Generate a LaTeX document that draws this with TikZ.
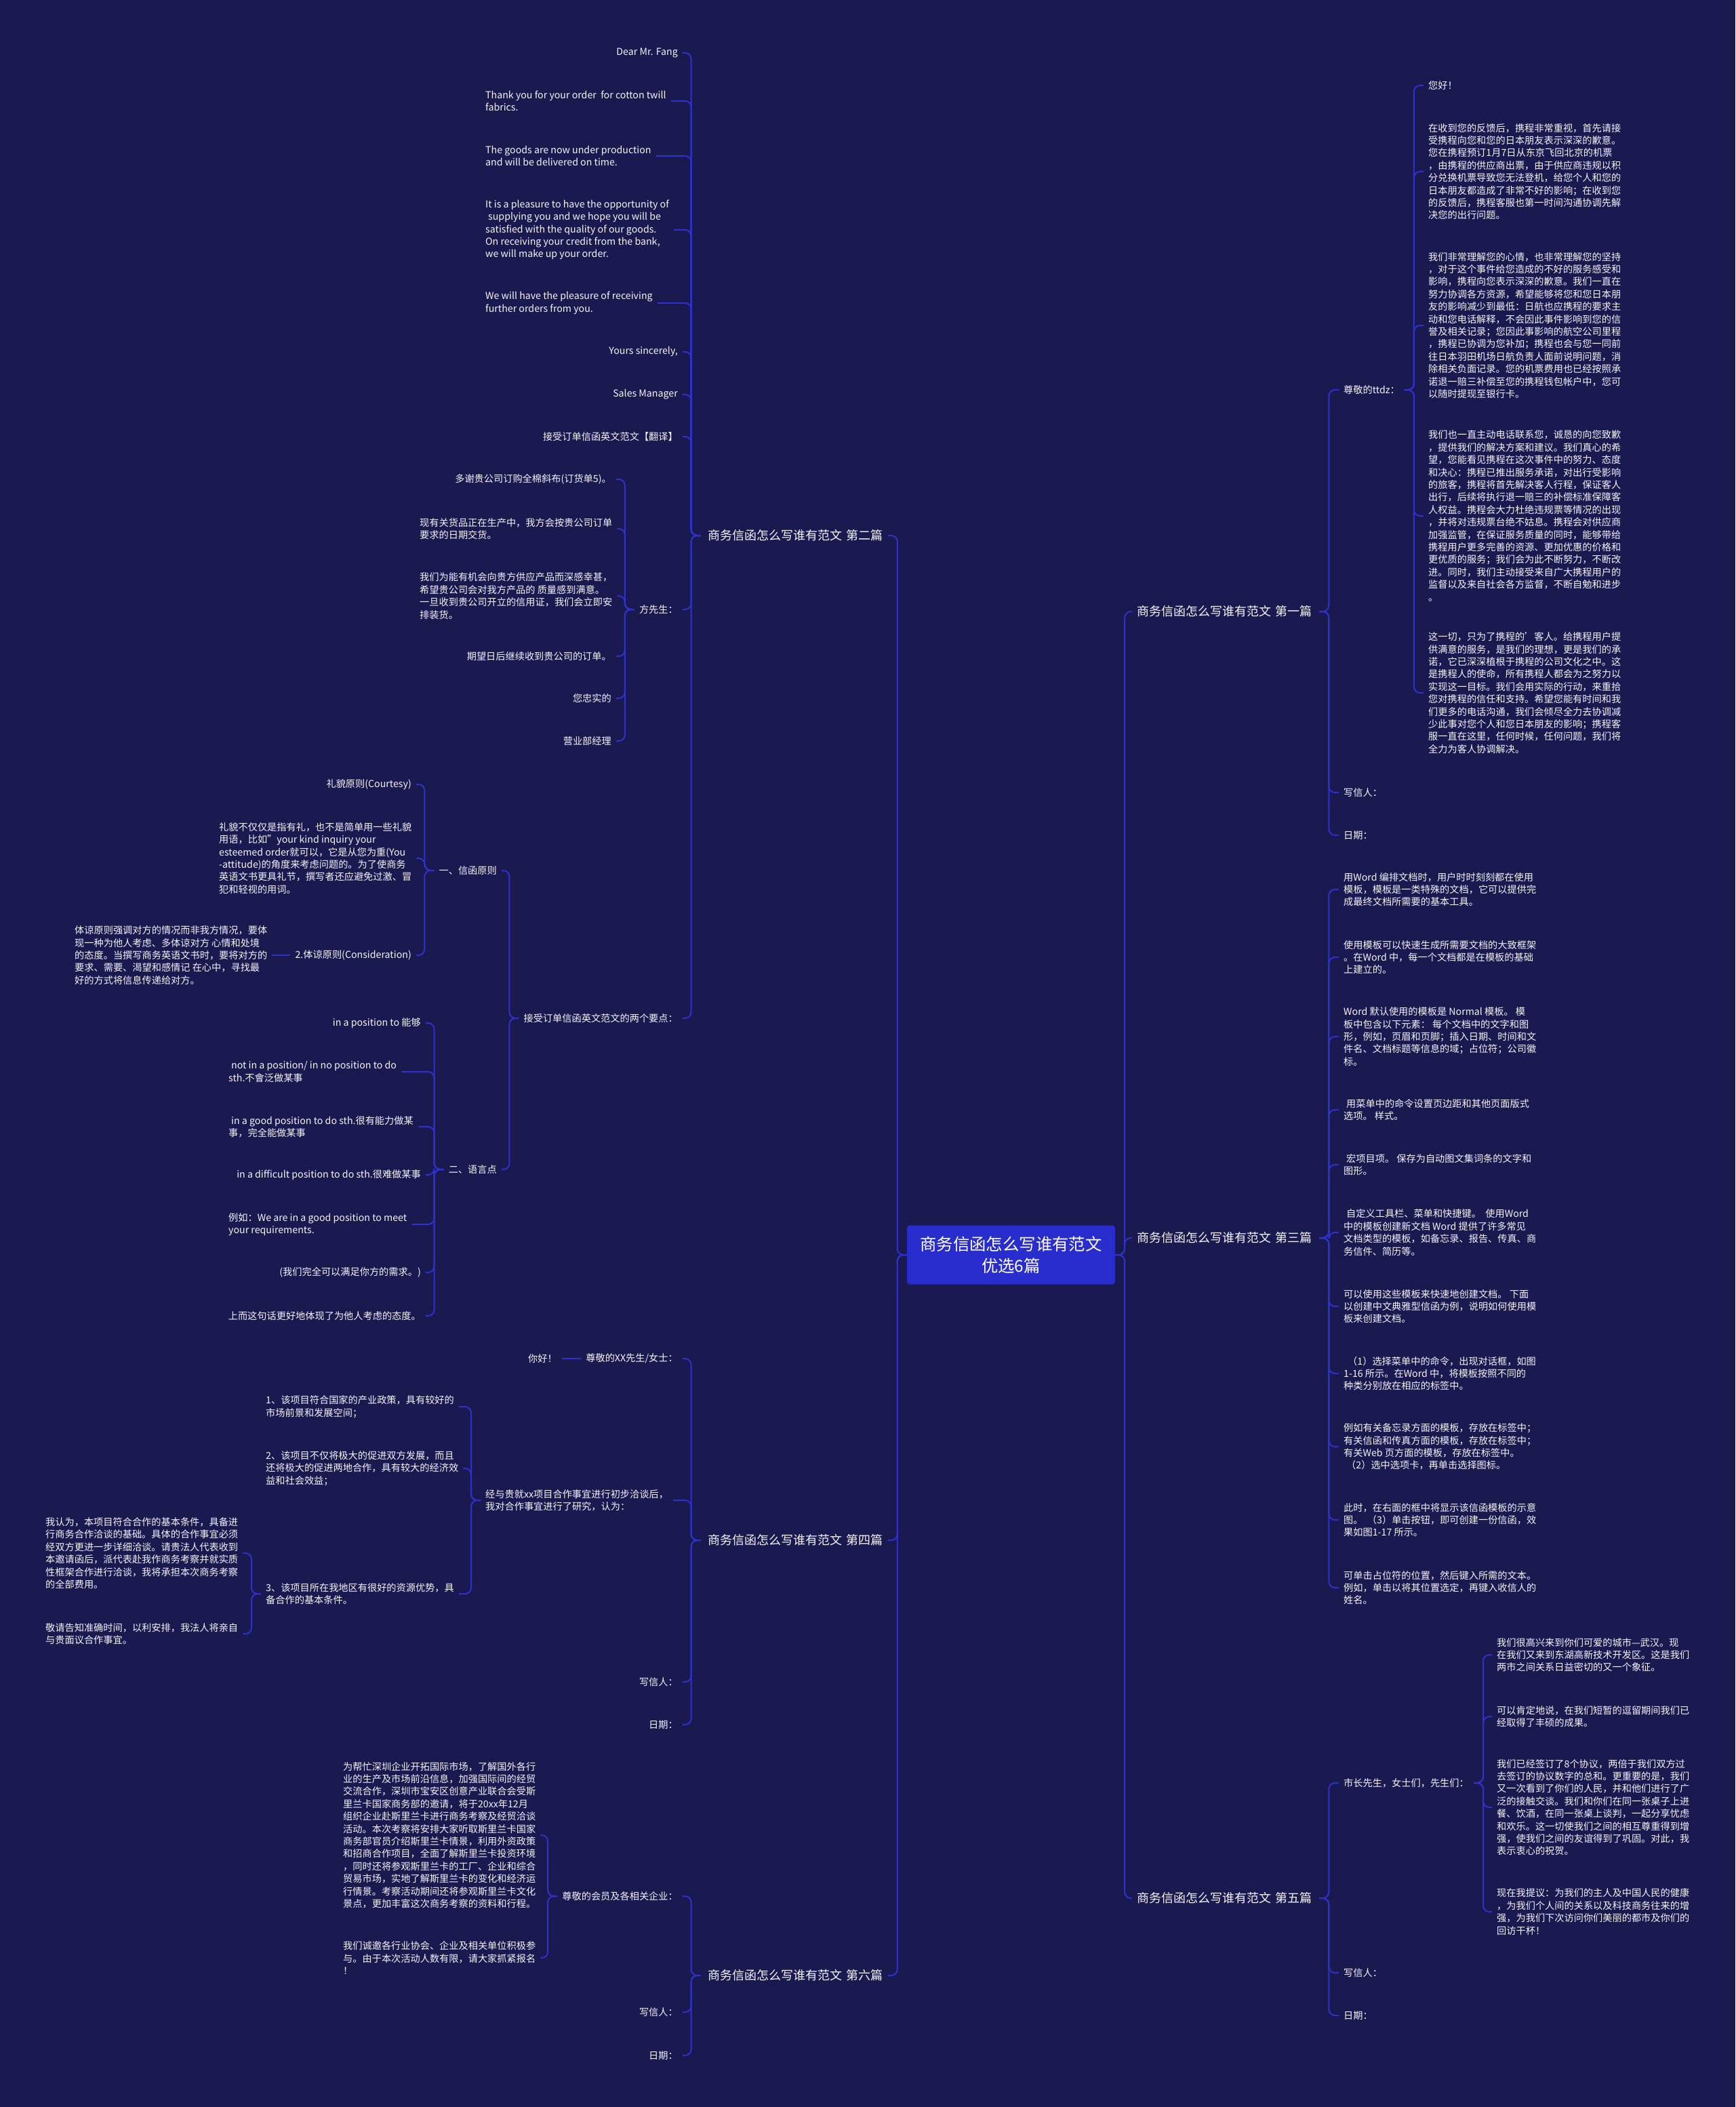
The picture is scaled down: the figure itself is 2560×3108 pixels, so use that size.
\documentclass[tikz,border=0pt]{standalone}
\usepackage{fontspec}
\setmainfont{Noto Sans CJK SC}
\definecolor{bg}{RGB}{26,25,80}
\definecolor{ln}{RGB}{45,50,205}
\definecolor{rootc}{RGB}{42,45,205}
\definecolor{txt}{RGB}{245,245,250}
\newcommand\fsml{\fontsize{14.2pt}{18.4pt}\selectfont}
\newcommand\fmain{\fontsize{18pt}{22pt}\selectfont}
\newcommand\froot{\fontsize{24.4pt}{32pt}\selectfont}
\newcommand\lcon[2]{\draw[conn] (#2.west) -- ++(-14,0) |- (#1.east);}
\newcommand\rcon[2]{\draw[conn] (#2.east) -- ++(14,0) |- (#1.west);}
\begin{document}
\begin{tikzpicture}[x=1pt,y=-1pt,
  every node/.style={text=txt, font=\fsml, inner xsep=7pt, inner ysep=2pt},
  lf/.style={anchor=east},
  lm/.style={anchor=west, align=left},
  rt/.style={anchor=west},
  rm/.style={anchor=west, align=left},
  mainL/.style={anchor=east, font=\fmain, text width=262pt, align=right},
  mainR/.style={anchor=west, font=\fmain, text width=262pt, align=left},
  rootbox/.style={fill=rootc, rounded corners=4pt, minimum width=307pt, minimum height=87pt, font=\froot, align=center, text=white},
  conn/.style={draw=ln, line width=2pt, rounded corners=9pt}]
\fill[bg] (0,0) rectangle (2560,3108);
\useasboundingbox (0,0) rectangle (2560,3108);

% root
\node[rootbox] (root) at (1491.5,1851) {商务信函怎么写谁有范文\\优选6篇};

% main branches
\node[mainL] (b2) at (1310,790) {商务信函怎么写谁有范文 第二篇};
\node[mainL] (b4) at (1310,2272) {商务信函怎么写谁有范文 第四篇};
\node[mainL] (b6) at (1310,2914) {商务信函怎么写谁有范文 第六篇};
\node[mainR] (b1) at (1670,902) {商务信函怎么写谁有范文 第一篇};
\node[mainR] (b3) at (1670,1826) {商务信函怎么写谁有范文 第三篇};
\node[mainR] (b5) at (1670,2800) {商务信函怎么写谁有范文 第五篇};

% ---- 第二篇
\node[lf] (a1) at (1007,78) {Dear Mr. Fang};
\node[lm] (a2) at (709,149) {Thank you for your order \ for cotton twill\\fabrics.};
\node[lm] (a3) at (709,230) {The goods are now under production\\and will be delivered on time.};
\node[lm] (a4) at (709,339) {It is a pleasure to have the opportunity of\\\hspace*{4pt}supplying you and we hope you will be\\satisfied with the quality of our goods.\\On receiving your credit from the bank,\\we will make up your order.};
\node[lm] (a5) at (709,447) {We will have the pleasure of receiving\\further orders from you.};
\node[lf] (a6) at (1007,519) {Yours sincerely,};
\node[lf] (a7) at (1007,582) {Sales Manager};
\node[lf] (a8) at (1007,644) {接受订单信函英文范文【翻译】};
\node[lf] (a9) at (1007,899) {方先生：};
\node[lf] (a10) at (1007,1502) {接受订单信函英文范文的两个要点：};

\node[lf] (f1) at (909,707) {多谢贵公司订购全棉斜布(订货单5)。};
\node[lm] (f2) at (612,780) {现有关货品正在生产中，我方会按贵公司订单\\要求的日期交货。};
\node[lm] (f3) at (612,879) {我们为能有机会向贵方供应产品而深感幸甚，\\希望贵公司会对我方产品的 质量感到满意。\\一旦收到贵公司开立的信用证，我们会立即安\\排装货。};
\node[lf] (f4) at (909,968) {期望日后继续收到贵公司的订单。};
\node[lf] (f5) at (909,1030) {您忠实的};
\node[lf] (f6) at (909,1093) {营业部经理};

\node[lf] (p1) at (740,1284) {一、信函原则};
\node[lf] (p2) at (740,1725) {二、语言点};

\node[lf] (c1) at (614,1157) {礼貌原则(Courtesy)};
\node[lm] (c2) at (316,1266) {礼貌不仅仅是指有礼，也不是简单用一些礼貌\\用语，比如\char34 your kind inquiry your\\esteemed order就可以，它是从您为重(You\\-attitude)的角度来考虑问题的。为了使商务\\英语文书更具礼节，撰写者还应避免过激、冒\\犯和轻视的用词。};
\node[lf] (c3) at (614,1409) {2.体谅原则(Consideration)};
\node[lm] (c4) at (103,1409) {体谅原则强调对方的情况而非我方情况，要体\\现一种为他人考虑、多体谅对方 心情和处境\\的态度。当撰写商务英语文书时，要将对方的\\要求、需要、渴望和感情记 在心中，寻找最\\好的方式将信息传递给对方。};

\node[lf] (q1) at (628,1509) {in a position to 能够};
\node[lm] (q2) at (330,1581) {\hspace*{4pt}not in a position/ in no position to do\\sth.不會泛做某事};
\node[lm] (q3) at (330,1662) {\hspace*{4pt}in a good position to do sth.很有能力做某\\事，完全能做某事};
\node[lf] (q4) at (628,1733) {in a difficult position to do sth.很难做某事};
\node[lm] (q5) at (330,1806) {例如：We are in a good position to meet\\your requirements.};
\node[lf] (q6) at (628,1877) {(我们完全可以满足你方的需求。)};
\node[lf] (q7) at (628,1941) {上而这句话更好地体现了为他人考虑的态度。};

% ---- 第四篇
\node[lf] (d1) at (1007,2004) {尊敬的XX先生/女士：};
\node[lf] (d1a) at (829,2004) {你好！};
\node[lm] (d2) at (709,2213) {经与贵就xx项目合作事宜进行初步洽谈后，\\我对合作事宜进行了研究，认为：};
\node[lm] (d2a) at (385,2075) {1、该项目符合国家的产业政策，具有较好的\\市场前景和发展空间；};
\node[lm] (d2b) at (385,2166) {2、该项目不仅将极大的促进双方发展，而且\\还将极大的促进两地合作，具有较大的经济效\\益和社会效益；};
\node[lm] (d2c) at (385,2351) {3、该项目所在我地区有很好的资源优势，具\\备合作的基本条件。};
\node[lm] (d2c1) at (60,2291) {我认为，本项目符合合作的基本条件，具备进\\行商务合作洽谈的基础。具体的合作事宜必须\\经双方更进一步详细洽谈。请贵法人代表收到\\本邀请函后，派代表赴我作商务考察并就实质\\性框架合作进行洽谈，我将承担本次商务考察\\的全部费用。};
\node[lm] (d2c2) at (60,2410) {敬请告知准确时间，以利安排，我法人将亲自\\与贵面议合作事宜。};
\node[lf] (d3) at (1007,2481) {写信人：};
\node[lf] (d4) at (1007,2544) {日期：};

% ---- 第六篇
\node[lf] (s1) at (1007,2797) {尊敬的会员及各相关企业：};
\node[lm] (s1a) at (499,2707) {为帮忙深圳企业开拓国际市场，了解国外各行\\业的生产及市场前沿信息，加强国际间的经贸\\交流合作，深圳市宝安区创意产业联合会受斯\\里兰卡国家商务部的邀请，将于20xx年12月\\组织企业赴斯里兰卡进行商务考察及经贸洽谈\\活动。本次考察将安排大家听取斯里兰卡国家\\商务部官员介绍斯里兰卡情景，利用外资政策\\和招商合作项目，全面了解斯里兰卡投资环境\\，同时还将参观斯里兰卡的工厂、企业和综合\\贸易市场，实地了解斯里兰卡的变化和经济运\\行情景。考察活动期间还将参观斯里兰卡文化\\景点，更加丰富这次商务考察的资料和行程。};
\node[lm] (s1b) at (499,2888) {我们诚邀各行业协会、企业及相关单位积极参\\与。由于本次活动人数有限，请大家抓紧报名\\！};
\node[lf] (s2) at (1007,2968) {写信人：};
\node[lf] (s3) at (1007,3032) {日期：};

% ---- 第一篇
\node[rt] (r1) at (1975,575) {尊敬的ttdz：};
\node[rt] (r1a) at (2100,126) {您好！};
\node[rm] (r1b) at (2100,253) {在收到您的反馈后，携程非常重视，首先请接\\受携程向您和您的日本朋友表示深深的歉意。\\您在携程预订1月7日从东京飞回北京的机票\\，由携程的供应商出票，由于供应商违规以积\\分兑换机票导致您无法登机，给您个人和您的\\日本朋友都造成了非常不好的影响；在收到您\\的反馈后，携程客服也第一时间沟通协调先解\\决您的出行问题。};
\node[rm] (r1c) at (2100,480) {我们非常理解您的心情，也非常理解您的坚持\\，对于这个事件给您造成的不好的服务感受和\\影响，携程向您表示深深的歉意。我们一直在\\努力协调各方资源，希望能够将您和您日本朋\\友的影响减少到最低：日航也应携程的要求主\\动和您电话解释，不会因此事件影响到您的信\\誉及相关记录；您因此事影响的航空公司里程\\，携程已协调为您补加；携程也会与您一同前\\往日本羽田机场日航负责人面前说明问题，消\\除相关负面记录。您的机票费用也已经按照承\\诺退一赔三补偿至您的携程钱包帐户中，您可\\以随时提现至银行卡。};
\node[rm] (r1d) at (2100,761) {我们也一直主动电话联系您，诚恳的向您致歉\\，提供我们的解决方案和建议。我们真心的希\\望，您能看见携程在这次事件中的努力、态度\\和决心：携程已推出服务承诺，对出行受影响\\的旅客，携程将首先解决客人行程，保证客人\\出行，后续将执行退一赔三的补偿标准保障客\\人权益。携程会大力杜绝违规票等情况的出现\\，并将对违规票台绝不姑息。携程会对供应商\\加强监管，在保证服务质量的同时，能够带给\\携程用户更多完善的资源、更加优惠的价格和\\更优质的服务；我们会为此不断努力，不断改\\进。同时，我们主动接受来自广大携程用户的\\监督以及来自社会各方监督，不断自勉和进步\\。};
\node[rm] (r1e) at (2100,1022) {这一切，只为了携程的'客人。给携程用户提\\供满意的服务，是我们的理想，更是我们的承\\诺，它已深深植根于携程的公司文化之中。这\\是携程人的使命，所有携程人都会为之努力以\\实现这一目标。我们会用实际的行动，来重拾\\您对携程的信任和支持。希望您能有时间和我\\们更多的电话沟通，我们会倾尽全力去协调减\\少此事对您个人和您日本朋友的影响；携程客\\服一直在这里，任何时候，任何问题，我们将\\全力为客人协调解决。};
\node[rt] (r2) at (1975,1169) {写信人：};
\node[rt] (r3) at (1975,1232) {日期：};

% ---- 第三篇
\node[rm] (t1) at (1975,1312) {用Word 编排文档时，用户时时刻刻都在使用\\模板，模板是一类特殊的文档，它可以提供完\\成最终文档所需要的基本工具。};
\node[rm] (t2) at (1975,1412) {使用模板可以快速生成所需要文档的大致框架\\。在Word 中，每一个文档都是在模板的基础\\上建立的。};
\node[rm] (t3) at (1975,1529) {Word 默认使用的模板是 Normal 模板。 模\\板中包含以下元素： 每个文档中的文字和图\\形，例如，页眉和页脚；插入日期、时间和文\\件名、文档标题等信息的域；占位符；公司徽\\标。};
\node[rm] (t4) at (1975,1637) {\hspace*{4pt}用菜单中的命令设置页边距和其他页面版式\\选项。 样式。};
\node[rm] (t5) at (1975,1718) {\hspace*{4pt}宏项目项。 保存为自动图文集词条的文字和\\图形。};
\node[rm] (t6) at (1975,1818) {\hspace*{4pt}自定义工具栏、菜单和快捷键。 \ 使用Word\\中的模板创建新文档 Word 提供了许多常见\\文档类型的模板，如备忘录、报告、传真、商\\务信件、简历等。};
\node[rm] (t7) at (1975,1927) {可以使用这些模板来快速地创建文档。 下面\\以创建中文典雅型信函为例，说明如何使用模\\板来创建文档。};
\node[rm] (t8) at (1975,2026) {\hspace*{6pt}（1）选择菜单中的命令，出现对话框，如图\\1-16 所示。在Word 中，将模板按照不同的\\种类分别放在相应的标签中。};
\node[rm] (t9) at (1975,2134) {例如有关备忘录方面的模板，存放在标签中；\\有关信函和传真方面的模板，存放在标签中；\\有关Web 页方面的模板，存放在标签中。\\\hspace*{4pt}（2）选中选项卡，再单击选择图标。};
\node[rm] (t10) at (1975,2242) {此时，在右面的框中将显示该信函模板的示意\\图。 \ （3）单击按钮，即可创建一份信函，效\\果如图1-17 所示。};
\node[rm] (t11) at (1975,2342) {可单击占位符的位置，然后键入所需的文本。\\例如，单击以将其位置选定，再键入收信人的\\姓名。};

% ---- 第五篇
\node[rt] (u1) at (1975,2630) {市长先生，女士们，先生们：};
\node[rm] (u1a) at (2201,2441) {我们很高兴来到你们可爱的城市—武汉。现\\在我们又来到东湖高新技术开发区。这是我们\\两市之间关系日益密切的又一个象征。};
\node[rm] (u1b) at (2201,2532) {可以肯定地说，在我们短暂的逗留期间我们已\\经取得了丰硕的成果。};
\node[rm] (u1c) at (2201,2666) {我们已经签订了8个协议，两倍于我们双方过\\去签订的协议数字的总和。更重要的是，我们\\又一次看到了你们的人民，并和他们进行了广\\泛的接触交谈。我们和你们在同一张桌子上进\\餐、饮酒，在同一张桌上谈判，一起分享忧虑\\和欢乐。这一切使我们之间的相互尊重得到增\\强，使我们之间的友谊得到了巩固。对此，我\\表示衷心的祝贺。};
\node[rm] (u1d) at (2201,2820) {现在我提议：为我们的主人及中国人民的健康\\，为我们个人间的关系以及科技商务往来的增\\强，为我们下次访问你们美丽的都市及你们的\\回访干杯！};
\node[rt] (u2) at (1975,2910) {写信人：};
\node[rt] (u3) at (1975,2973) {日期：};

% ---- connectors
\foreach \c in {b2,b4,b6} {\lcon{\c}{root}}
\foreach \c in {b1,b3,b5} {\rcon{\c}{root}}
\foreach \c in {a1,a2,a3,a4,a5,a6,a7,a8,a9,a10} {\lcon{\c}{b2}}
\foreach \c in {f1,f2,f3,f4,f5,f6} {\lcon{\c}{a9}}
\foreach \c in {p1,p2} {\lcon{\c}{a10}}
\foreach \c in {c1,c2,c3} {\lcon{\c}{p1}}
\draw[conn] (c3.west) -- (c4.east);
\foreach \c in {q1,q2,q3,q4,q5,q6,q7} {\lcon{\c}{p2}}
\foreach \c in {d1,d2,d3,d4} {\lcon{\c}{b4}}
\draw[conn] (d1.west) -- (d1a.east);
\foreach \c in {d2a,d2b,d2c} {\lcon{\c}{d2}}
\foreach \c in {d2c1,d2c2} {\lcon{\c}{d2c}}
\foreach \c in {s1,s2,s3} {\lcon{\c}{b6}}
\foreach \c in {s1a,s1b} {\lcon{\c}{s1}}
\foreach \c in {r1,r2,r3} {\rcon{\c}{b1}}
\foreach \c in {r1a,r1b,r1c,r1d,r1e} {\rcon{\c}{r1}}
\foreach \c in {t1,t2,t3,t4,t5,t6,t7,t8,t9,t10,t11} {\rcon{\c}{b3}}
\foreach \c in {u1,u2,u3} {\rcon{\c}{b5}}
\foreach \c in {u1a,u1b,u1c,u1d} {\rcon{\c}{u1}}
\end{tikzpicture}
\end{document}
